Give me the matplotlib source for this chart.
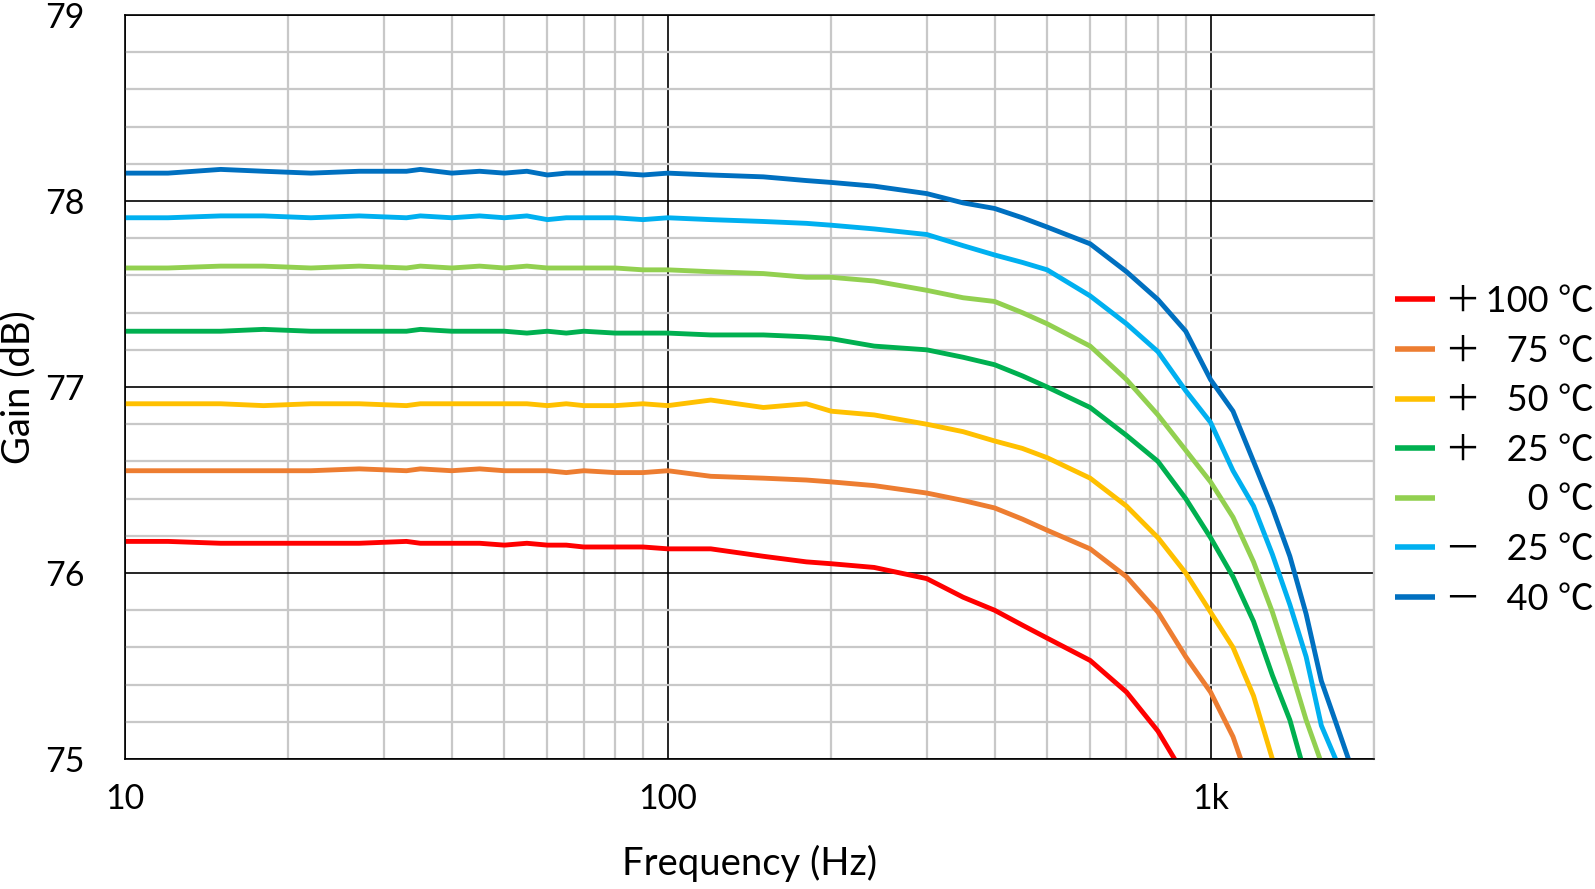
import matplotlib
matplotlib.use("Agg")
import matplotlib.pyplot as plt
from matplotlib.ticker import MultipleLocator, FixedLocator, NullFormatter

plt.rcParams['font.family'] = ['Lato', 'Noto Sans CJK JP', 'DejaVu Sans']

# Frequency grid (Hz)
freq = [10, 12, 15, 18, 22, 27, 33, 35, 40, 45,
        50, 55, 60, 65, 70, 80, 90, 100, 120, 150,
        180, 200, 240, 300, 350, 400, 450, 500, 600, 700,
        800, 900, 1000, 1100, 1200, 1300, 1400, 1500, 1600, 1700,
        1800, 1900]

# Gain (dB) per temperature
gain_p100 = [76.17, 76.17, 76.16, 76.16, 76.16, 76.16, 76.17, 76.16, 76.16, 76.16,
             76.15, 76.16, 76.15, 76.15, 76.14, 76.14, 76.14, 76.13, 76.13, 76.09,
             76.06, 76.05, 76.03, 75.97, 75.87, 75.80, 75.72, 75.65, 75.53, 75.36,
             75.15, 74.90, 74.60, 74.30, 74.00, 73.70, 73.40, 73.10, 72.80, 72.50,
             72.20, 71.90]
gain_p75 = [76.55, 76.55, 76.55, 76.55, 76.55, 76.56, 76.55, 76.56, 76.55, 76.56,
            76.55, 76.55, 76.55, 76.54, 76.55, 76.54, 76.54, 76.55, 76.52, 76.51,
            76.50, 76.49, 76.47, 76.43, 76.39, 76.35, 76.29, 76.23, 76.13, 75.98,
            75.79, 75.55, 75.36, 75.12, 74.80, 74.45, 74.10, 73.75, 73.40, 73.05,
            72.70, 72.35]
gain_p50 = [76.91, 76.91, 76.91, 76.90, 76.91, 76.91, 76.90, 76.91, 76.91, 76.91,
            76.91, 76.91, 76.90, 76.91, 76.90, 76.90, 76.91, 76.90, 76.93, 76.89,
            76.91, 76.87, 76.85, 76.80, 76.76, 76.71, 76.67, 76.62, 76.51, 76.36,
            76.19, 76.00, 75.79, 75.60, 75.34, 75.00, 74.60, 74.20, 73.80, 73.40,
            73.00, 72.60]
gain_p25 = [77.30, 77.30, 77.30, 77.31, 77.30, 77.30, 77.30, 77.31, 77.30, 77.30,
            77.30, 77.29, 77.30, 77.29, 77.30, 77.29, 77.29, 77.29, 77.28, 77.28,
            77.27, 77.26, 77.22, 77.20, 77.16, 77.12, 77.06, 77.00, 76.89, 76.74,
            76.60, 76.40, 76.19, 75.98, 75.74, 75.45, 75.21, 74.90, 74.60, 74.30,
            74.00, 73.70]
gain_0 = [77.64, 77.64, 77.65, 77.65, 77.64, 77.65, 77.64, 77.65, 77.64, 77.65,
          77.64, 77.65, 77.64, 77.64, 77.64, 77.64, 77.63, 77.63, 77.62, 77.61,
          77.59, 77.59, 77.57, 77.52, 77.48, 77.46, 77.40, 77.34, 77.22, 77.04,
          76.85, 76.66, 76.49, 76.30, 76.06, 75.79, 75.50, 75.21, 74.98, 74.70,
          74.40, 74.10]
gain_m25 = [77.91, 77.91, 77.92, 77.92, 77.91, 77.92, 77.91, 77.92, 77.91, 77.92,
            77.91, 77.92, 77.90, 77.91, 77.91, 77.91, 77.90, 77.91, 77.90, 77.89,
            77.88, 77.87, 77.85, 77.82, 77.76, 77.71, 77.67, 77.63, 77.49, 77.34,
            77.19, 76.98, 76.81, 76.55, 76.36, 76.10, 75.83, 75.55, 75.18, 75.00,
            74.80, 74.60]
gain_m40 = [78.15, 78.15, 78.17, 78.16, 78.15, 78.16, 78.16, 78.17, 78.15, 78.16,
            78.15, 78.16, 78.14, 78.15, 78.15, 78.15, 78.14, 78.15, 78.14, 78.13,
            78.11, 78.10, 78.08, 78.04, 77.99, 77.96, 77.91, 77.86, 77.77, 77.62,
            77.47, 77.30, 77.04, 76.87, 76.60, 76.35, 76.09, 75.78, 75.42, 75.20,
            74.99, 74.75]

series = [gain_p100, gain_p75, gain_p50, gain_p25, gain_0, gain_m25, gain_m40]
colors = ['#FF0000', '#ED7D31', '#FFC000', '#00B050', '#92D050', '#00B0F0', '#0070C0']
signs = ['\uff0b', '\uff0b', '\uff0b', '\uff0b', '\u3000', '\uff0d', '\uff0d']
temps = ['100', '75', '50', '25', '0', '25', '40']

FS = '\u2007'
labels = [s + '\u2009' + FS * (3 - len(t)) + t + ' \u2103' for s, t in zip(signs, temps)]

x_ticks = [10, 100, 1000]
x_tick_labels = ['10', '100', '1k']
y_ticks = [75, 76, 77, 78, 79]

fig = plt.figure(figsize=(15.95, 8.89), dpi=100)
ax = fig.add_axes([0.0784, 0.1462, 0.7830, 0.8369])

for g, c, lab in zip(series, colors, labels):
    ax.plot(freq, g, color=c, lw=3.5, label=lab, solid_capstyle='butt')

ax.set_xscale('log')
ax.set_xlim(10, 2000)
ax.set_ylim(75, 79)
ax.xaxis.set_major_locator(FixedLocator(x_ticks))
ax.set_xticklabels(x_tick_labels)
ax.xaxis.set_minor_locator(FixedLocator([m * d for d in (10, 100, 1000) for m in range(2, 10) if m * d <= 2000]))
ax.xaxis.set_minor_formatter(NullFormatter())
ax.set_yticks(y_ticks)
ax.yaxis.set_minor_locator(MultipleLocator(0.2))

ax.set_axisbelow(True)
ax.grid(which='minor', color='#c8c8c8', lw=1.6)
ax.grid(which='major', color='black', lw=1.2)
ax.tick_params(which='both', length=0)
ax.tick_params(axis='y', labelsize=24.5, pad=29)
ax.tick_params(axis='x', labelsize=24.5, pad=17)
for s in ['left', 'bottom', 'top']:
    ax.spines[s].set_color('black')
    ax.spines[s].set_linewidth(1.2)
ax.spines['right'].set_color('#c8c8c8')
ax.spines['right'].set_linewidth(1.6)

ax.set_xlabel('Frequency (Hz)', fontsize=27.5)
ax.set_ylabel('Gain (dB)', fontsize=27.5)
ax.xaxis.set_label_coords(0.5, -0.115)
ax.yaxis.set_label_coords(-0.071, 0.5)

leg = ax.legend(loc='center left', bbox_to_anchor=(1.0, 0.415), frameon=False,
                fontsize=26, handlelength=1.1, handletextpad=0.3,
                labelspacing=0.46, borderaxespad=0.18)
for line in leg.get_lines():
    line.set_linewidth(4)

fig.savefig('out.png', dpi=100)
